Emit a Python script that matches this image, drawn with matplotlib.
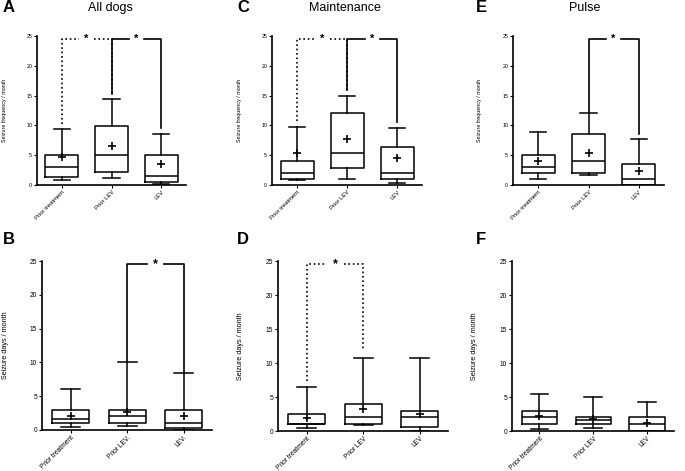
import matplotlib
matplotlib.use("Agg")
import matplotlib.pyplot as plt

plt.rcParams['font.family'] = ['Liberation Sans', 'DejaVu Sans']

groups = ["Prior treatment", "Prior LEV", "LEV"]
groups_b = ["Prior treatment", "Prior LEV.", "LEV."]

# five-number summaries + mean
# order per group: whislo, q1, med, q3, whishi, mean
freq_all = [[0.9, 1.3, 3.0, 5.0, 9.4, 4.7],
            [1.2, 2.1, 5.0, 9.9, 14.5, 6.6],
            [0.2, 0.45, 1.5, 5.0, 8.6, 3.5]]
freq_maint = [[0.85, 0.95, 2.0, 4.0, 9.8, 5.3],
              [0.95, 2.9, 5.3, 12.0, 15.0, 7.7],
              [0.35, 0.95, 2.0, 6.3, 9.6, 4.5]]
freq_pulse = [[1.0, 2.0, 3.0, 5.0, 8.95, 4.0],
              [1.6, 2.0, 4.0, 8.6, 12.0, 5.3],
              [0.0, 0.0, 1.0, 3.5, 7.7, 2.3]]
days_all = [[0.5, 1.0, 1.7, 3.0, 6.0, 2.1],
            [0.65, 1.0, 2.0, 3.0, 10.0, 2.7],
            [0.0, 0.35, 1.0, 3.0, 8.45, 2.0]]
days_maint = [[0.4, 1.0, 1.0, 2.5, 6.4, 1.9],
              [0.85, 1.0, 2.0, 4.0, 10.7, 3.2],
              [0.0, 0.65, 2.0, 3.0, 10.7, 2.5]]
days_pulse = [[0.35, 1.05, 2.0, 3.0, 5.5, 2.25],
              [0.5, 1.0, 1.55, 2.0, 5.0, 1.75],
              [0.0, 0.0, 1.0, 2.0, 4.3, 1.2]]

# significance brackets: (left idx, right idx, left start, right start, style)
sig_A = [(0, 1, 10.2, 15.2, ':'), (1, 2, 15.2, 9.5, '-')]
sig_C = [(0, 1, 10.7, 15.9, ':'), (1, 2, 15.9, 10.6, '-')]
sig_E = [(1, 2, 12.2, 8.6, '-')]
sig_B = [(1, 2, 10.2, 8.6, '-')]
sig_D = [(0, 1, 7.3, 11.7, ':')]
sig_F = []

W, H = 685, 471
fig = plt.figure(figsize=(W / 100, H / 100), dpi=100)


def make_ax(l, r, t, b):
    return fig.add_axes([l / W, 1 - b / H, (r - l) / W, (b - t) / H])


def draw(ax, data, labels, sig, ylabel, small, xmin):
    stats = []
    for lab, d in zip(labels, data):
        stats.append(dict(label=lab, whislo=d[0], q1=d[1], med=d[2], q3=d[3],
                          whishi=d[4], mean=d[5], fliers=[]))
    lw = 1.1
    ms = 6 if small else 5.5
    ax.bxp(stats, positions=range(len(stats)), widths=0.66, capwidths=0.33,
           showmeans=True, showfliers=False,
           boxprops=dict(color='black', lw=lw),
           medianprops=dict(color='black', lw=lw),
           whiskerprops=dict(color='black', lw=lw),
           capprops=dict(color='black', lw=lw),
           meanprops=dict(marker='+', markersize=ms, markeredgecolor='black',
                          markeredgewidth=1.2))
    top = 24.5
    gap = 0.15
    for i, j, si, sj, ls in sig:
        mid = (i + j) / 2
        ax.plot([i, i, mid - gap], [si, top, top], color='black', ls=ls,
                lw=1.2, clip_on=False)
        ax.plot([mid + gap, j, j], [top, top, sj], color='black', ls=ls,
                lw=1.2, clip_on=False)
        ax.text(mid, top, '*', ha='center', va='center',
                fontsize=8 if small else 9, fontweight='bold')
    ax.set_ylim(0, 25)
    ax.set_xlim(xmin, 2.5)
    ax.set_yticks([0, 5, 10, 15, 20, 25])
    for s in ['top', 'right']:
        ax.spines[s].set_visible(False)
    for s in ['left', 'bottom']:
        ax.spines[s].set_linewidth(1.2)
    tfs = 3.8 if small else 4.8
    ax.tick_params(direction='out', length=2.5, width=0.8, labelsize=tfs, pad=1)
    ax.tick_params(axis='x', pad=0.5)
    ax.set_xticks(range(3))
    ax.set_xticklabels(labels, rotation=45, ha='right', rotation_mode='anchor',
                       fontsize=4.2 if small else 4.8)
    ax.set_ylabel(ylabel, fontsize=3.9 if small else 5.2)


axA = make_ax(37, 186, 36, 185)
axC = make_ax(272, 422, 36, 185)
axE = make_ax(513, 664, 36, 185)
axB = make_ax(42, 212, 261, 430)
axD = make_ax(278, 448, 261, 431)
axF = make_ax(512, 674, 261, 431)

fq = "Seizure frequency / month"
dy = "Seizure days / month"
draw(axA, freq_all, groups, sig_A, fq, True, -0.5)
draw(axC, freq_maint, groups, sig_C, fq, True, -0.5)
draw(axE, freq_pulse, groups, sig_E, fq, True, -0.5)
draw(axB, days_all, groups_b, sig_B, dy, False, -0.51)
draw(axD, days_maint, groups, sig_D, dy, False, -0.51)
draw(axF, days_pulse, groups, sig_F, dy, False, -0.51)

# y label positions (pixels from left)
for ax, x in [(axA, 7), (axC, 242), (axE, 482), (axB, 9), (axD, 244), (axF, 478)]:
    bb = ax.get_position()
    ax.yaxis.set_label_coords((x / W - bb.x0) / bb.width, 0.5)

# panel titles and letters
for x, t in [(110, "All dogs"), (345, "Maintenance"), (585, "Pulse")]:
    fig.text(x / W, 1 - 8 / H, t, ha='center', va='center', fontsize=9)
for x, y, t in [(3, 8, "A"), (237, 8, "C"), (476, 8, "E"),
                (3, 239, "B"), (237, 239, "D"), (476, 239, "F")]:
    fig.text(x / W, 1 - y / H, t, ha='left', va='center', fontsize=12,
             fontweight='bold')

fig.savefig("out.png", dpi=100)
